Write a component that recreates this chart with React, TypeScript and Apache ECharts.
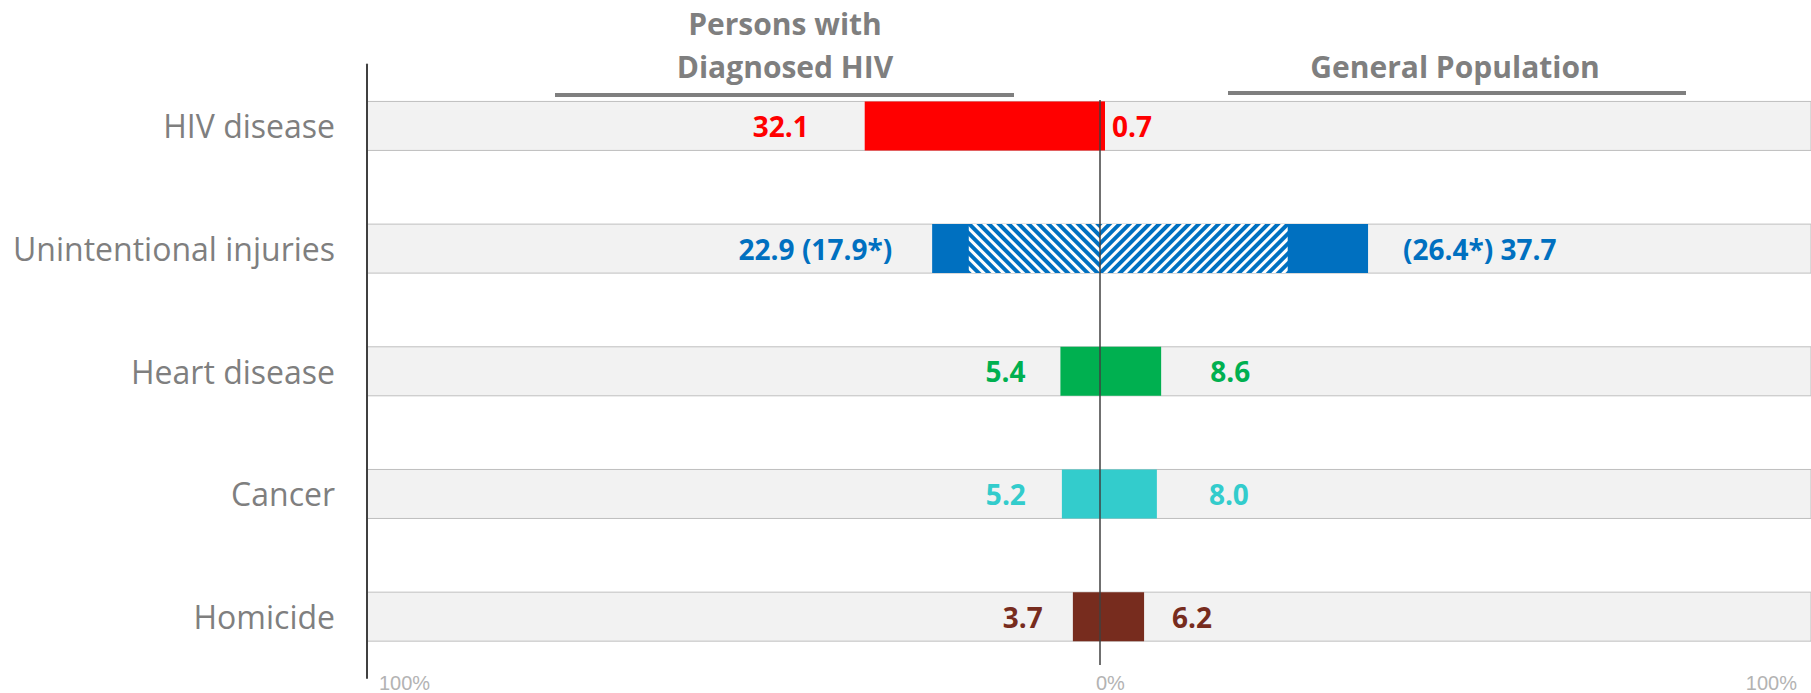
import React, { useEffect, useRef } from "react";
import * as echarts from "echarts";

const categories = ["HIV disease", "Unintentional injuries", "Heart disease", "Cancer", "Homicide"];
const hivPct = [32.1, 22.9, 5.4, 5.2, 3.7];
const genPct = [0.7, 37.7, 8.6, 8.0, 6.2];
const hivAdjusted: (number | null)[] = [null, 17.9, null, null, null];
const genAdjusted: (number | null)[] = [null, 26.4, null, null, null];
const barColors = ["#ff0000", "#0070c0", "#00b050", "#33cccc", "#772c1e"];
const leftHeader = ["Persons with", "Diagnosed HIV"];
const rightHeader = "General Population";
const axisMax = 100;

// label gaps (style only), in px from the bar end
const labelGapLeft = [56, 40, 35, 36, 30];
const labelGapRight = [7, 35, 49, 52, 28];

const fmt = (v: number) => v.toFixed(1);

export default function App() {
  const ref = useRef<HTMLDivElement>(null);
  useEffect(() => {
    document.body.style.margin = "0";
    if (!ref.current) return;
    const chart = echarts.init(ref.current, null, { renderer: "svg" });

    const gridTop = 64.6;
    const gridBottom = 14.6;
    const zeroX = 1100;
    const leftX = 367;
    const barW = 49;
    const valueFont = { fontFamily: "Open Sans", fontWeight: "bold" as const, fontSize: 28 };

    const itemData = (vals: (number | null)[], gaps?: number[]) =>
      vals.map((v, i) =>
        v == null
          ? null
          : {
              value: v,
              itemStyle: { color: barColors[i] },
              label: gaps ? { color: barColors[i], distance: gaps[i] } : { color: barColors[i] },
            }
      );

    const bg = { color: "#f2f2f2", borderColor: "#bfbfbf", borderWidth: 1 };
    const tickFont = { fontFamily: "Liberation Sans", fontSize: 20, color: "#b3b3b3" };

    const option: any = {
      animation: false,
      grid: [
        { left: leftX, right: 1811 - zeroX, top: gridTop, bottom: gridBottom },
        { left: zeroX, right: 0, top: gridTop, bottom: gridBottom },
      ],
      xAxis: [
        {
          gridIndex: 0,
          type: "value",
          min: 0,
          max: axisMax,
          interval: axisMax,
          inverse: true,
          splitLine: { show: false },
          axisLine: { show: false },
          axisTick: { show: false },
          axisLabel: {
            margin: -5,
            align: "left",
            ...tickFont,
            formatter: (v: number) => (v === axisMax ? "{l|" + v + "%}" : ""),
            rich: { l: { padding: [0, 0, 0, 12], ...tickFont } },
          },
        },
        {
          gridIndex: 1,
          type: "value",
          min: 0,
          max: axisMax,
          interval: axisMax,
          splitLine: { show: false },
          axisLine: { show: false },
          axisTick: { show: false },
          axisLabel: {
            margin: -5,
            ...tickFont,
            alignMinLabel: "left",
            alignMaxLabel: "right",
            formatter: (v: number) => (v === axisMax ? "{r|" + v + "%}" : "{z|" + v + "%}"),
            rich: {
              r: { padding: [0, 14, 0, 0], ...tickFont },
              z: { padding: [0, 0, 0, -4], ...tickFont },
            },
          },
        },
      ],
      yAxis: [
        {
          gridIndex: 0,
          type: "category",
          data: categories,
          inverse: true,
          axisTick: { show: false },
          axisLine: { show: true, onZero: false, lineStyle: { color: "#404040", width: 2 } },
          axisLabel: { margin: 32, fontFamily: "Open Sans", fontSize: 32, color: "#7f7f7f" },
          z: 5,
        },
        {
          gridIndex: 1,
          type: "category",
          data: categories,
          inverse: true,
          show: false,
        },
      ],
      series: [
        {
          type: "bar",
          xAxisIndex: 0,
          yAxisIndex: 0,
          barWidth: barW,
          barGap: "-100%",
          showBackground: true,
          backgroundStyle: bg,
          data: itemData(hivPct, labelGapLeft),
          label: {
            show: true,
            position: "left",
            ...valueFont,
            formatter: (p: any) =>
              hivAdjusted[p.dataIndex] != null
                ? `${fmt(p.value)} (${fmt(hivAdjusted[p.dataIndex] as number)}*)`
                : fmt(p.value),
          },
        },
        {
          type: "bar",
          xAxisIndex: 0,
          yAxisIndex: 0,
          barWidth: barW,
          barGap: "-100%",
          data: itemData(hivAdjusted),
          itemStyle: {
            decal: {
              symbol: "rect",
              symbolSize: 1,
              dashArrayX: [1, 0],
              dashArrayY: [2.5, 3.5],
              rotation: Math.PI / 4,
              color: "#ffffff",
            },
          },
        },
        {
          type: "bar",
          xAxisIndex: 1,
          yAxisIndex: 1,
          barWidth: barW,
          barGap: "-100%",
          showBackground: true,
          backgroundStyle: bg,
          data: itemData(genPct, labelGapRight),
          label: {
            show: true,
            position: "right",
            ...valueFont,
            formatter: (p: any) =>
              genAdjusted[p.dataIndex] != null
                ? `(${fmt(genAdjusted[p.dataIndex] as number)}*) ${fmt(p.value)}`
                : fmt(p.value),
          },
        },
        {
          type: "bar",
          xAxisIndex: 1,
          yAxisIndex: 1,
          barWidth: barW,
          barGap: "-100%",
          data: itemData(genAdjusted),
          itemStyle: {
            decal: {
              symbol: "rect",
              symbolSize: 1,
              dashArrayX: [1, 0],
              dashArrayY: [2.5, 3.5],
              rotation: -Math.PI / 4,
              color: "#ffffff",
            },
          },
        },
      ],
      graphic: [
        {
          type: "text",
          x: 785,
          y: 23,
          style: {
            text: leftHeader[0],
            fill: "#7f7f7f",
            font: "bold 30px 'Open Sans'",
            textAlign: "center",
            textVerticalAlign: "middle",
          },
        },
        {
          type: "text",
          x: 785,
          y: 66,
          style: {
            text: leftHeader[1],
            fill: "#7f7f7f",
            font: "bold 30px 'Open Sans'",
            textAlign: "center",
            textVerticalAlign: "middle",
          },
        },
        {
          type: "line",
          shape: { x1: 555, y1: 95, x2: 1014, y2: 95 },
          style: { stroke: "#7f7f7f", lineWidth: 4 },
        },
        {
          type: "text",
          x: 1455,
          y: 66,
          style: {
            text: rightHeader,
            fill: "#7f7f7f",
            font: "bold 30px 'Open Sans'",
            textAlign: "center",
            textVerticalAlign: "middle",
          },
        },
        {
          type: "line",
          shape: { x1: 1228, y1: 93, x2: 1686, y2: 93 },
          style: { stroke: "#7f7f7f", lineWidth: 4 },
        },
        {
          type: "line",
          z: 100,
          shape: { x1: zeroX, y1: 100, x2: zeroX, y2: 665 },
          style: { stroke: "#404040", lineWidth: 1.5 },
        },
      ],
    };

    chart.setOption(option);
    return () => chart.dispose();
  }, []);

  return <div ref={ref} style={{ width: 1811, height: 693 }} />;
}
